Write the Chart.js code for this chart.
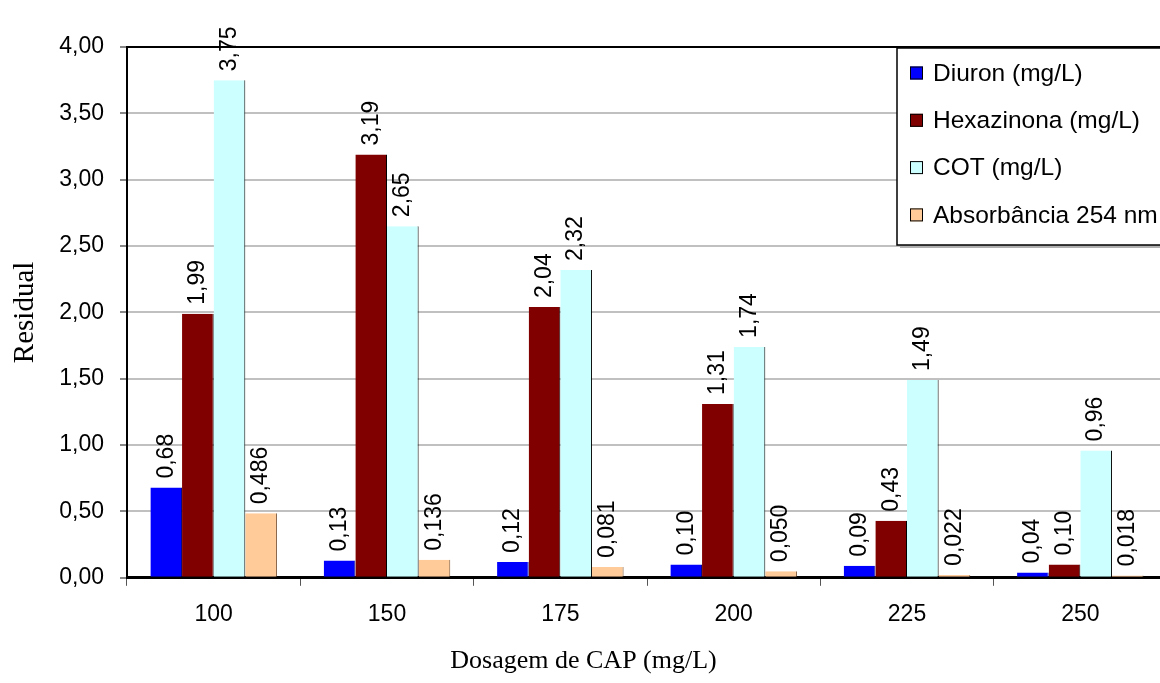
<!DOCTYPE html>
<html>
<head>
<meta charset="utf-8">
<script src="https://cdn.jsdelivr.net/npm/chart.js@4.4.1/dist/chart.umd.min.js"></script>
<style>
  body { margin: 0; background: #fff; overflow: hidden; }
  #wrap { width: 1168px; height: 683px; position: relative; }
</style>
</head>
<body>
<div id="wrap"><canvas id="barChart"></canvas></div>
<script>
// valores
const doses = ["100", "150", "175", "200", "225", "250"];
const diuron = [0.68, 0.13, 0.12, 0.10, 0.09, 0.04];
const hexazinona = [1.99, 3.19, 2.04, 1.31, 0.43, 0.10];
const cot = [3.75, 2.65, 2.32, 1.74, 1.49, 0.96];
const absorbancia = [0.486, 0.136, 0.081, 0.050, 0.022, 0.018];
const casas = [2, 2, 2, 3]; // decimal places for the labels of each series

const sansFont = '"Liberation Sans", Arial, sans-serif';
const serifFont = '"Liberation Serif", "Times New Roman", serif';

const fmt = (v, d) => v.toFixed(d).replace(".", ",");

// rotated value labels above each bar
const valueLabels = {
    id: "valueLabels",
    afterDatasetsDraw(chart) {
        const ctx = chart.ctx;
        ctx.save();
        ctx.font = "23px " + sansFont;
        ctx.fillStyle = "#000";
        ctx.textAlign = "left";
        ctx.textBaseline = "middle";
        chart.data.datasets.forEach((ds, i) => {
            chart.getDatasetMeta(i).data.forEach((bar, j) => {
                ctx.save();
                ctx.translate(bar.x, bar.y - 9);
                ctx.rotate(-Math.PI / 2);
                ctx.fillText(fmt(ds.data[j], casas[i]), 0, 0);
                ctx.restore();
            });
        });
        ctx.restore();
    }
};

// black frame line on top of plot area + boxed legend (Excel style)
const frameAndLegend = {
    id: "frameAndLegend",
    afterDraw(chart) {
        const ctx = chart.ctx;
        const area = chart.chartArea;
        ctx.save();
        ctx.strokeStyle = "#000";
        ctx.lineWidth = 2;
        ctx.beginPath();
        ctx.moveTo(area.left, area.top);
        ctx.lineTo(area.right, area.top);
        ctx.stroke();

        const bx = 897, by = 48, bw = 290, bh = 197;
        ctx.fillStyle = "#b0b0b0";
        ctx.fillRect(bx + 3, by + 3, bw, bh);
        ctx.fillStyle = "#fff";
        ctx.fillRect(bx, by, bw, bh);
        ctx.lineWidth = 1.5;
        ctx.strokeRect(bx, by, bw, bh);

        ctx.font = "24.5px " + sansFont;
        ctx.textBaseline = "middle";
        ctx.textAlign = "left";
        chart.data.datasets.forEach((ds, i) => {
            const y = by + 25 + i * 47.3;
            ctx.fillStyle = ds.backgroundColor;
            ctx.fillRect(bx + 13, y - 6.5, 13, 13);
            ctx.lineWidth = 1;
            ctx.strokeStyle = "#000";
            ctx.strokeRect(bx + 13.5, y - 6, 12, 12);
            ctx.fillStyle = "#000";
            ctx.fillText(ds.label, bx + 36, y + 1);
        });
        ctx.restore();
    }
};

const bar = document.getElementById("barChart");
const barChart = new Chart(bar, {
    type: "bar",
    data: {
        labels: doses,
        datasets: [
            { label: "Diuron (mg/L)", data: diuron, backgroundColor: "#0000ff", borderColor: "#000080" },
            { label: "Hexazinona (mg/L)", data: hexazinona, backgroundColor: "#800000", borderColor: "#000" },
            { label: "COT (mg/L)", data: cot, backgroundColor: "#ccffff", borderColor: "#000" },
            { label: "Absorbância 254 nm", data: absorbancia, backgroundColor: "#ffcc99", borderColor: "#7a5230" }
        ]
    },
    options: {
        responsive: true,
        maintainAspectRatio: false,
        animation: false,
        devicePixelRatio: 1,
        layout: { padding: { top: 47, right: 1, left: 0, bottom: 0 } },
        datasets: {
            bar: {
                categoryPercentage: 0.73,
                barPercentage: 1.0,
                borderWidth: { top: 0, left: 0, bottom: 0, right: 1 },
                borderSkipped: false
            }
        },
        plugins: {
            legend: { display: false },
            tooltip: { enabled: false },
            title: {
                display: true,
                position: "bottom",
                text: "Dosagem de CAP (mg/L)",
                color: "#000",
                font: { family: serifFont, size: 26, weight: "normal" },
                padding: { top: 0, bottom: 6 }
            }
        },
        scales: {
            x: {
                afterFit: (s) => { s.height = 68; },
                grid: {
                    offset: true,
                    drawOnChartArea: false,
                    drawTicks: true,
                    tickLength: 8,
                    tickColor: "#555"
                },
                border: { display: true, color: "#000", width: 3 },
                ticks: {
                    color: "#000",
                    padding: 15,
                    font: { family: sansFont, size: 23 }
                }
            },
            y: {
                min: 0,
                max: 4,
                afterFit: (s) => { s.width = 127; },
                title: {
                    display: true,
                    text: "Residual",
                    color: "#000",
                    font: { family: serifFont, size: 29, weight: "normal" },
                    padding: { top: 8, bottom: 0 }
                },
                grid: {
                    color: "#c0c0c0",
                    lineWidth: 2,
                    tickLength: 7,
                    tickColor: "#888"
                },
                border: { display: true, color: "#000", width: 2 },
                ticks: {
                    stepSize: 0.5,
                    color: "#000",
                    padding: 16,
                    font: { family: sansFont, size: 23 },
                    callback: (v) => fmt(v, 2)
                }
            }
        }
    },
    plugins: [valueLabels, frameAndLegend]
});
</script>
</body>
</html>
